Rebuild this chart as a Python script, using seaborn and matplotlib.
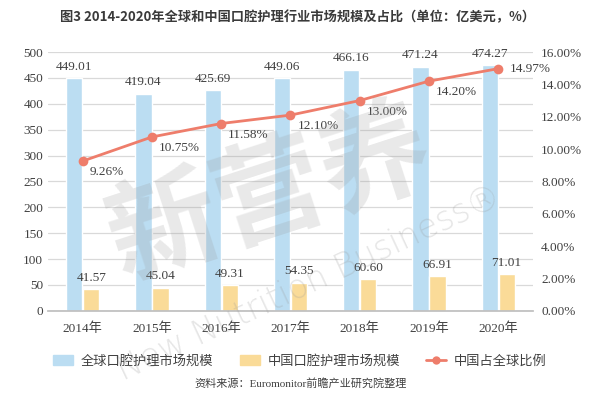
import numpy as np
import pandas as pd
import matplotlib
matplotlib.use("Agg")
import matplotlib.pyplot as plt
import seaborn as sns
from matplotlib.patches import Patch
from matplotlib.lines import Line2D

years = ['2014年', '2015年', '2016年', '2017年', '2018年', '2019年', '2020年']
global_size = [449.01, 419.04, 425.69, 449.06, 466.16, 471.24, 474.27]
china_size = [41.57, 45.04, 49.31, 54.35, 60.60, 66.91, 71.01]
china_share = [9.26, 10.75, 11.58, 12.10, 13.00, 14.20, 14.97]
series_names = ['全球口腔护理市场规模', '中国口腔护理市场规模', '中国占全球比例']

title = '图3 2014-2020年全球和中国口腔护理行业市场规模及占比（单位：亿美元，%）'
source = '资料来源：Euromonitor前瞻产业研究院整理'

blue = '#BBDDF2'
yellow = '#FADB98'
red = '#EE7D6B'
txt = '#404040'

sns.set_theme(style='white')
plt.rcParams['font.family'] = ['Liberation Serif', 'Noto Sans CJK SC']

df = pd.DataFrame({
    'year': years * 2,
    'value': global_size + china_size,
    'series': [series_names[0]] * 7 + [series_names[1]] * 7,
})

fig = plt.figure(figsize=(5.94, 3.94), dpi=100)
ax = fig.add_axes([0.081, 0.211, 0.816, 0.657])

sns.barplot(data=df, x='year', y='value', hue='series', palette=[blue, yellow],
            width=0.49, gap=0.04, saturation=1, legend=False, ax=ax, zorder=2)
for c in ax.containers:
    ax.bar_label(c, fmt='%.2f', padding=4, fontsize=9.5, color=txt)

ax.set_ylim(0, 500)
ax.set_yticks(range(0, 501, 50))
ax.set_xlabel('')
ax.set_ylabel('')
ax.grid(axis='y', color='#D9D9D9', linewidth=0.9, zorder=0)
ax.set_axisbelow(True)
for s in ['left', 'top', 'right']:
    ax.spines[s].set_visible(False)
ax.spines['bottom'].set_color('#BFBFBF')
ax.tick_params(axis='both', length=0, labelsize=9.5, labelcolor=txt)
ax.tick_params(axis='x', pad=8)
xlim = ax.get_xlim()

ax2 = ax.twinx()
sns.lineplot(x=np.arange(len(years)), y=china_share, ax=ax2, color=red,
             linewidth=2, marker='o', markersize=7, markeredgewidth=0, zorder=3)
ax2.set_ylim(0, 16)
ax2.set_yticks(range(0, 17, 2))
ax2.set_yticklabels([f'{v:.2f}%' for v in range(0, 17, 2)])
ax2.tick_params(axis='y', length=0, labelsize=9.5, labelcolor=txt, pad=6)
for s in ax2.spines.values():
    s.set_visible(False)
ax2.set_xlim(xlim)

for i, v in enumerate(china_share):
    if i == len(china_share) - 1:
        ax2.annotate(f'{v:.2f}%', (i, v), xytext=(8, 0), textcoords='offset points',
                     ha='left', va='center', fontsize=9.5, color=txt)
    else:
        ax2.annotate(f'{v:.2f}%', (i, v), xytext=(5, -8), textcoords='offset points',
                     ha='left', va='center', fontsize=9.5, color=txt)

# watermark
fig.text(0.455, 0.50, '新营养', fontsize=80, fontweight='bold', rotation=18,
         color='#9a9a9a', alpha=0.22, ha='center', va='center',
         family=['Noto Sans CJK SC'])
fig.text(0.52, 0.28, 'New Nutrition Business®', fontsize=24, rotation=25,
         color='#9a9a9a', alpha=0.25, ha='center', va='center',
         family=['DejaVu Sans'], fontweight='light')

handles = [Patch(color=blue), Patch(color=yellow),
           Line2D([0], [0], color=red, linewidth=2, marker='o', markersize=6, markeredgewidth=0)]
fig.legend(handles, series_names, loc='center', bbox_to_anchor=(0.505, 1 - 361 / 394),
           ncol=3, frameon=False, handlelength=1.5, columnspacing=2.0,
           handletextpad=0.6, labelcolor=txt, prop={'family': ['Noto Sans CJK SC'], 'size': 9.5})

fig.text(0.5, 1 - 17 / 394, title, ha='center', va='center', fontsize=9.5,
         fontweight='bold', color='#3a3a3a', family=['Noto Sans CJK SC'])
fig.text(0.506, 1 - 383 / 394, source, ha='center', va='center', fontsize=8,
         color=txt, family=['Liberation Serif', 'Noto Sans CJK SC'])

fig.savefig('out.png', dpi=100)
